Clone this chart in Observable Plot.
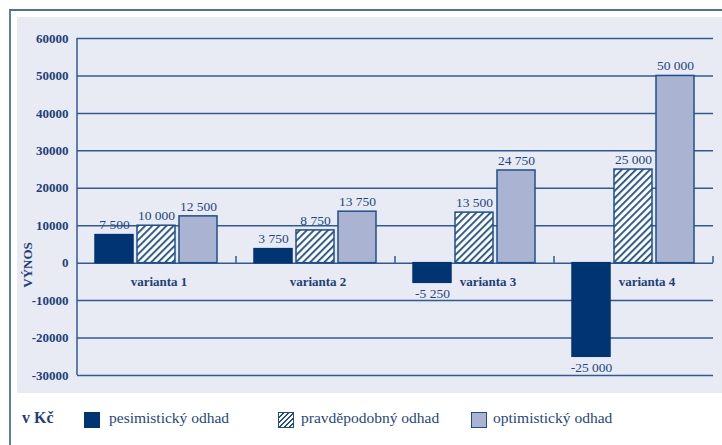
<!DOCTYPE html>
<html>
<head>
<meta charset="utf-8">
<script src="https://cdn.jsdelivr.net/npm/d3@7"></script>
<script src="https://cdn.jsdelivr.net/npm/@observablehq/plot@0.6"></script>
<style>
  html, body { margin: 0; padding: 0; background: #fff; }
  #wrap { position: relative; width: 722px; height: 445px; overflow: hidden; font-family: "Liberation Serif", "DejaVu Serif", serif; color: #1d3f7a; }
  #frame { position: absolute; left: 9px; top: 9px; width: 740px; height: 460px; border-left: 2px solid #5b7fb1; border-top: 2px solid #4a70a6; }
  #panel { position: absolute; left: 17px; top: 17px; width: 710px; height: 376px; background: #e8ebf3; }
  #chart { position: absolute; left: 0; top: 0; }
  #legend { position: absolute; left: 0; top: 0; width: 722px; height: 445px; pointer-events: none; }
  .lg { position: absolute; font-size: 15.5px; line-height: 18px; color: #24477f; white-space: nowrap; }
  .sw { position: absolute; width: 14px; height: 14px; border: 1.5px solid #1f4f8b; }
  #ylabel { position: absolute; left: 28px; top: 265px; transform: translate(-50%, -50%) rotate(-90deg); font-weight: bold; font-size: 13px; color: #1d3f7a; white-space: nowrap; }
</style>
</head>
<body>
<div id="wrap">
  <div id="frame"></div>
  <div id="panel"></div>
  <div id="chart"></div>
  <div id="ylabel">VÝNOS</div>
  <div id="legend">
    <div class="lg" style="left:22px;top:409px;font-weight:bold;font-size:16px;color:#1d3f7a;">v Kč</div>
    <div class="sw" style="left:84px;top:412px;background:#003473;border-color:#003473;"></div>
    <div class="lg" style="left:109px;top:409px;">pesimistický odhad</div>
    <div class="sw" style="left:278px;top:412px;background:repeating-linear-gradient(-45deg,#fff 0 2px,#1f4f8b 2px 3.5px);"></div>
    <div class="lg" style="left:301px;top:409px;">pravděpodobný odhad</div>
    <div class="sw" style="left:471px;top:412px;background:#aab3d1;"></div>
    <div class="lg" style="left:493px;top:409px;">optimistický odhad</div>
  </div>
</div>
<script>
const variants = ["varianta 1", "varianta 2", "varianta 3", "varianta 4"];
const seriesNames = ["pesimistický odhad", "pravděpodobný odhad", "optimistický odhad"];
const pesimisticky = [7500, 3750, -5250, -25000];
const pravdepodobny = [10000, 8750, 13500, 25000];
const optimisticky = [12500, 13750, 24750, 50000];
const yTicks = [-30000, -20000, -10000, 0, 10000, 20000, 30000, 40000, 50000, 60000];

const seriesValues = [pesimisticky, pravdepodobny, optimisticky];
const rows = [];
seriesNames.forEach((s, si) => {
  variants.forEach((v, vi) => rows.push({variant: v, series: s, value: seriesValues[si][vi]}));
});

const fmt = d3.formatLocale({decimal: ",", thousands: " ", grouping: [3], currency: ["", ""], minus: "-"}).format(",");
const navy = "#1f4f8b";
const grid = "#2e5b96";
const fills = {
  "pesimistický odhad": "#003473",
  "pravděpodobný odhad": "url(#hatch)",
  "optimistický odhad": "#aab3d1"
};

const chart = Plot.plot({
  width: 722,
  height: 400,
  marginLeft: 75,
  marginRight: 8,
  marginTop: 38,
  marginBottom: 25,
  style: {background: "transparent", fontFamily: "Liberation Serif, serif", overflow: "visible"},
  fx: {domain: variants, padding: 0, axis: null},
  x: {domain: seriesNames, paddingInner: 0.093, paddingOuter: 0.4, axis: null},
  y: {domain: [-30000, 60000], axis: null},
  marks: [
    Plot.ruleY(yTicks, {stroke: grid, strokeWidth: 1.5}),
    ...seriesNames.map(s => Plot.barY(rows.filter(r => r.series === s), {
      fx: "variant", x: "series", y: "value",
      fill: fills[s], stroke: s === "pesimistický odhad" ? "#003473" : navy, strokeWidth: 1.5
    })),
    Plot.text(rows.filter(r => r.value >= 0), {
      fx: "variant", x: "series", y: "value", text: d => fmt(d.value),
      dy: -10, fill: "#24477f", fontSize: 13.5
    }),
    Plot.text(rows.filter(r => r.value < 0), {
      fx: "variant", x: "series", y: "value", text: d => fmt(d.value),
      dy: 11, fill: "#24477f", fontSize: 13.5
    }),
    Plot.text(variants.slice(0, 2), {fx: d => d, y: () => 0, text: d => d, dy: 19, dx: 2, fontWeight: "bold", fontSize: 13, fill: "#1d3f7a"}),
    Plot.text(variants.slice(2), {fx: d => d, y: () => 0, text: d => d, dy: 19, dx: 13, fontWeight: "bold", fontSize: 13, fill: "#1d3f7a"}),
    Plot.axisY({ticks: yTicks, tickSize: 0, tickPadding: 9, tickFormat: d => String(d), fontWeight: "bold", fontSize: 13, fill: "#1d3f7a", label: null})
  ]
});

// pattern for hatched bars
const ns = "http://www.w3.org/2000/svg";
const svg = chart.tagName.toLowerCase() === "svg" ? chart : chart.querySelector("svg");
const defs = document.createElementNS(ns, "defs");
defs.innerHTML = '<pattern id="hatch" patternUnits="userSpaceOnUse" width="5" height="5" patternTransform="rotate(45)">' +
  '<rect width="5" height="5" fill="#ffffff"/><rect width="1.8" height="5" fill="#1f4f8b"/></pattern>';
svg.insertBefore(defs, svg.firstChild);

// axis line and category boundary ticks from Plot's own scales
const fxS = chart.scale("fx");
const yS = chart.scale("y");
const g = d3.select(svg).append("g").attr("stroke", grid).attr("stroke-width", 1.5);
const left = fxS.apply(variants[0]);
g.append("line").attr("x1", left).attr("x2", left).attr("y1", yS.apply(60000)).attr("y2", yS.apply(-30000));
const bounds = variants.slice(1).map(v => fxS.apply(v)).concat([fxS.apply(variants[3]) + fxS.bandwidth]);
bounds.forEach(bx => {
  g.append("line").attr("x1", bx).attr("x2", bx).attr("y1", yS.apply(0)).attr("y2", yS.apply(1800));
});
document.getElementById("chart").appendChild(chart);
</script>
</body>
</html>
